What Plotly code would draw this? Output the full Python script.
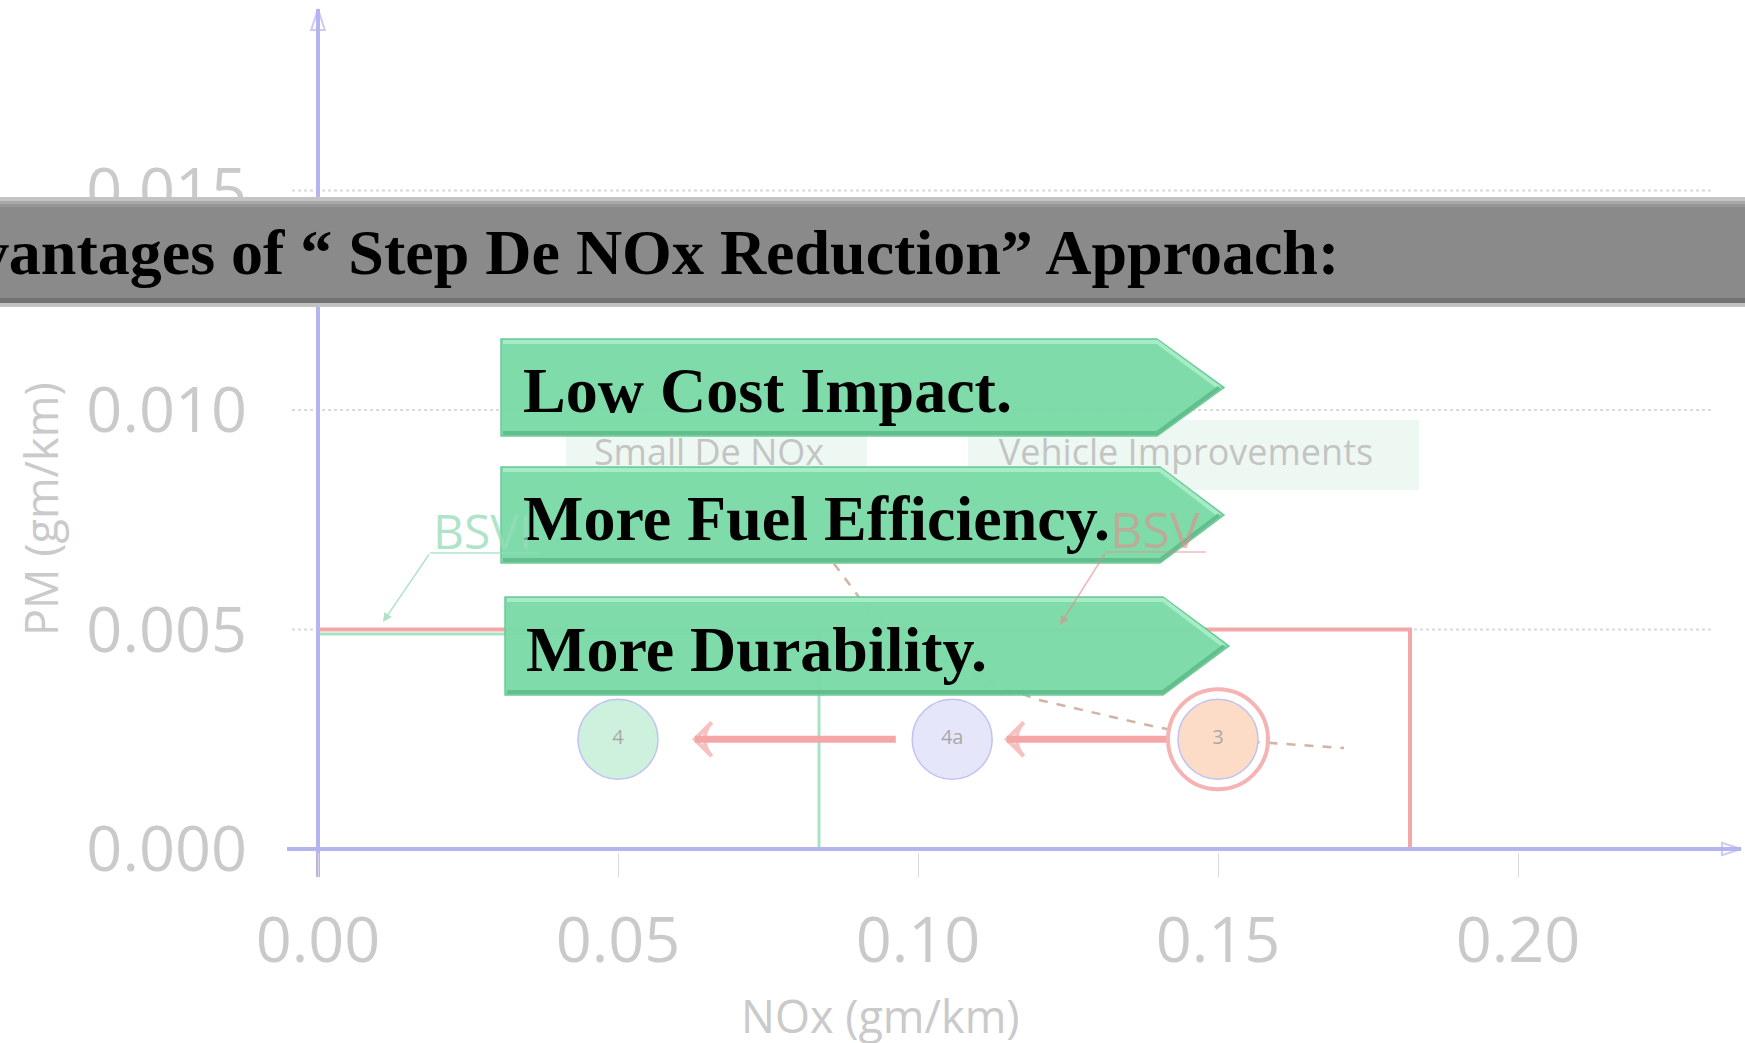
import plotly.graph_objects as go

# NOx vs PM (gm/km)
x_ticks = [0.00, 0.05, 0.10, 0.15, 0.20]
x_tick_text = ["0.00", "0.05", "0.10", "0.15", "0.20"]
y_ticks = [0.000, 0.005, 0.010, 0.015]
y_tick_text = ["0.000", "0.005", "0.010", "0.015"]
grid_pm = [0.005, 0.010, 0.015]

bsv_nox = [0.0, 0.182, 0.182]
bsv_pm = [0.005, 0.005, 0.0]
bsvi_nox = [0.0, 0.0835, 0.0835]
bsvi_pm = [0.0049, 0.0049, 0.0]

stage_labels = ["4", "4a", "3"]
stage_nox = [0.050, 0.1057, 0.150]
stage_pm = [0.0025, 0.0025, 0.0025]

step_from_nox = [0.1415, 0.0963]
step_to_nox = [0.1148, 0.0628]
step_pm = [0.0025, 0.0025]

trend_nox = [0.086, 0.092, 0.100, 0.110, 0.120, 0.139, 0.150, 0.171]
trend_pm = [0.0065, 0.0054, 0.0046, 0.0039, 0.0034, 0.0028, 0.0025, 0.0023]

advantages = ["Low Cost Impact.", "More Fuel Efficiency.", "More Durability."]
banner_text = "Advantages of \u201c Step De NOx Reduction\u201d Approach:"

W, H = 1745, 1043
L, R, T, B = 280, 0, 5, 166


def dx(p):
    return (p - 318) / 6000


def dy(p):
    return (849 - p) / 43900


def px(p):
    return (p - L) / (W - L - R)


def py(p):
    return (H - B - p) / (H - B - T)


grey_txt = "#cacaca"
axis_col = "#b4b4ef"

fig = go.Figure()

# gridlines
gx, gy = [], []
for g in grid_pm:
    gx += [dx(292), dx(1714), None]
    gy += [g, g, None]
fig.add_trace(go.Scatter(x=gx, y=gy, mode="lines",
                         line=dict(color="#dadada", width=2, dash="dot"), hoverinfo="skip"))

# label boxes
for lo, hi in [(566, 867), (968, 1419)]:
    fig.add_shape(type="rect", xref="paper", yref="paper", layer="below",
                  x0=px(lo), x1=px(hi), y0=py(490), y1=py(420),
                  fillcolor="#eef8f2", line=dict(width=0))

# limit boxes
fig.add_trace(go.Scatter(x=bsv_nox, y=bsv_pm, mode="lines",
                         line=dict(color="#f4a7a7", width=4), hoverinfo="skip"))
fig.add_trace(go.Scatter(x=bsvi_nox, y=bsvi_pm, mode="lines",
                         line=dict(color="#a6e3c4", width=3), hoverinfo="skip"))

# trade-off trend
fig.add_trace(go.Scatter(x=trend_nox, y=trend_pm, mode="lines",
                         line=dict(color="#d2b4a4", width=2.5, dash="dash"), hoverinfo="skip"))

# axes with arrowheads
fig.add_trace(go.Scatter(x=[dx(287), dx(1741)], y=[0, 0], mode="lines+markers",
                         line=dict(color=axis_col, width=4),
                         marker=dict(symbol="arrow-open", size=[0, 20], angleref="previous",
                                     color=axis_col, line=dict(width=2, color=axis_col)),
                         hoverinfo="skip"))
fig.add_trace(go.Scatter(x=[0, 0], y=[dy(877), dy(9)], mode="lines+markers",
                         line=dict(color=axis_col, width=4),
                         marker=dict(symbol="arrow-open", size=[0, 22], angleref="previous",
                                     color=axis_col, line=dict(width=2, color=axis_col)),
                         hoverinfo="skip"))

# step arrows
for f, t, p in zip(step_from_nox, step_to_nox, step_pm):
    fig.add_trace(go.Scatter(x=[f, t], y=[p, p], mode="lines+markers",
                             line=dict(color="#f5a6a6", width=7),
                             marker=dict(symbol="arrow-wide-open", size=[0, 24], angleref="previous",
                                         color="#f5a6a6", line=dict(width=4, color="#f5a6a6")),
                             hoverinfo="skip"))

# stages
fig.add_trace(go.Scatter(x=[stage_nox[2]], y=[stage_pm[2]], mode="markers",
                         marker=dict(symbol="circle-open", size=100, color="#f6b3b3",
                                     line=dict(width=4, color="#f6b3b3")),
                         hoverinfo="skip"))
fig.add_trace(go.Scatter(x=stage_nox, y=stage_pm, mode="markers+text", text=stage_labels,
                         textposition="middle center",
                         textfont=dict(family="Open Sans", size=20, color="#a9a9a9"),
                         marker=dict(size=80, color=["#cdf1dd", "#e6e6fb", "#fcdcc6"],
                                     line=dict(width=1.5, color="#c2c2f2")),
                         hoverinfo="skip"))

# chart labels
fig.add_trace(go.Scatter(x=[dx(709), dx(1186)], y=[dy(456), dy(456)], mode="text",
                         text=["Small De NOx", "Vehicle Improvements"],
                         textfont=dict(family="Open Sans", size=36, color="#c4c4c4"),
                         hoverinfo="skip"))

# banner
fig.add_shape(type="rect", xref="paper", yref="paper", layer="above",
              x0=px(0), x1=px(W), y0=py(307), y1=py(197),
              fillcolor="#8a8a8a", line=dict(width=0))
for a, b, c in [(197, 201, "#c4c4c4"), (201, 204, "#a8a8a8"), (204, 207, "#959595"),
                (298, 303, "#727272"), (303, 307, "#c2c2c2")]:
    fig.add_shape(type="rect", xref="paper", yref="paper", layer="above",
                  x0=px(0), x1=px(W), y0=py(b), y1=py(a),
                  fillcolor=c, line=dict(width=0))

# green arrows
boxes = [(501, 1157, 1224, 339, 436, 521), (501, 1160, 1224, 467, 563, 521),
         (505, 1163, 1229, 597, 695, 524)]
for (x0, x1, xt, y0, y1, tx), label in zip(boxes, advantages):
    ym = (y0 + y1) / 2
    path = (f"M{px(x0)},{py(y0)} L{px(x1)},{py(y0)} L{px(xt)},{py(ym)} "
            f"L{px(x1)},{py(y1)} L{px(x0)},{py(y1)} Z")
    fig.add_shape(type="path", path=path, xref="paper", yref="paper", layer="above",
                  fillcolor="#7adba7", opacity=0.96, line=dict(color="#68c994", width=1.5))
    top = f"M{px(x0 + 2)},{py(y0 + 3)} L{px(x1)},{py(y0 + 3)} L{px(xt - 5)},{py(ym)}"
    fig.add_shape(type="path", path=top, xref="paper", yref="paper", layer="above",
                  line=dict(color="#a6ecc6", width=4))
    bot = f"M{px(x0 + 2)},{py(y1 - 3)} L{px(x1)},{py(y1 - 3)} L{px(xt - 5)},{py(ym)}"
    fig.add_shape(type="path", path=bot, xref="paper", yref="paper", layer="above",
                  line=dict(color="#62be8d", width=4))
    fig.add_annotation(x=px(tx), y=py(ym + 3), xref="paper", yref="paper",
                       xanchor="left", yanchor="middle", showarrow=False,
                       text=f"<b>{label}</b>",
                       font=dict(family="Liberation Serif", size=64, color="black"))

# BSVI / BSV callouts (faded, drawn over the arrows)
callouts = [("BSVI", 482, 530, 48, "rgba(150,220,185,0.75)", (430, 540, 553), (383, 622)),
            ("BSV", 1155, 529, 50, "rgba(225,140,140,0.6)", (1106, 1206, 552), (1060, 625))]
for txt, cx, cy, fs, col, (u0, u1, uy), (ex, ey) in callouts:
    fig.add_annotation(x=px(cx), y=py(cy), xref="paper", yref="paper",
                       xanchor="center", yanchor="middle", showarrow=False, text=txt,
                       font=dict(family="Open Sans", size=fs, color=col))
    fig.add_shape(type="line", xref="paper", yref="paper", layer="above",
                  x0=px(u0), x1=px(u1), y0=py(uy), y1=py(uy), line=dict(color=col, width=1.5))
    fig.add_annotation(x=px(ex), y=py(ey), xref="paper", yref="paper", text="",
                       showarrow=True, arrowhead=2, arrowsize=1.2, arrowwidth=1.5,
                       arrowcolor=col, ax=u0 - ex, ay=uy - ey)

fig.add_annotation(x=px(1341), y=py(252), xref="paper", yref="paper",
                   xanchor="right", yanchor="middle", showarrow=False,
                   text=f"<b>{banner_text}</b>",
                   font=dict(family="Liberation Serif", size=64, color="black"))

# axis titles
fig.add_annotation(x=px(40), y=py(509), xref="paper", yref="paper", textangle=-90,
                   xanchor="center", yanchor="middle", showarrow=False, text="PM (gm/km)",
                   font=dict(family="Open Sans", size=45, color=grey_txt))
fig.add_annotation(x=px(880), y=py(1015), xref="paper", yref="paper",
                   xanchor="center", yanchor="middle", showarrow=False, text="NOx (gm/km)",
                   font=dict(family="Open Sans", size=45, color=grey_txt))

fig.update_layout(
    width=W, height=H,
    margin=dict(l=L, r=R, t=T, b=B, autoexpand=False),
    plot_bgcolor="white", paper_bgcolor="white",
    showlegend=False,
    xaxis=dict(range=[dx(L), dx(W - R)], showgrid=False, zeroline=False, showline=False,
               tickvals=x_ticks, ticktext=x_tick_text, ticks="inside", ticklen=24,
               tickcolor="#dadada", tickwidth=1, ticklabelstandoff=21,
               tickfont=dict(family="Open Sans", size=63, color=grey_txt)),
    yaxis=dict(range=[dy(H - B), dy(T)], showgrid=False, zeroline=False, showline=False,
               tickvals=y_ticks, ticktext=y_tick_text, ticks="", ticklabelstandoff=32,
               tickfont=dict(family="Open Sans", size=63, color=grey_txt)),
)

fig.write_html("out.html", config={"displayModeBar": False},
               post_script="document.body.style.margin='0';")
